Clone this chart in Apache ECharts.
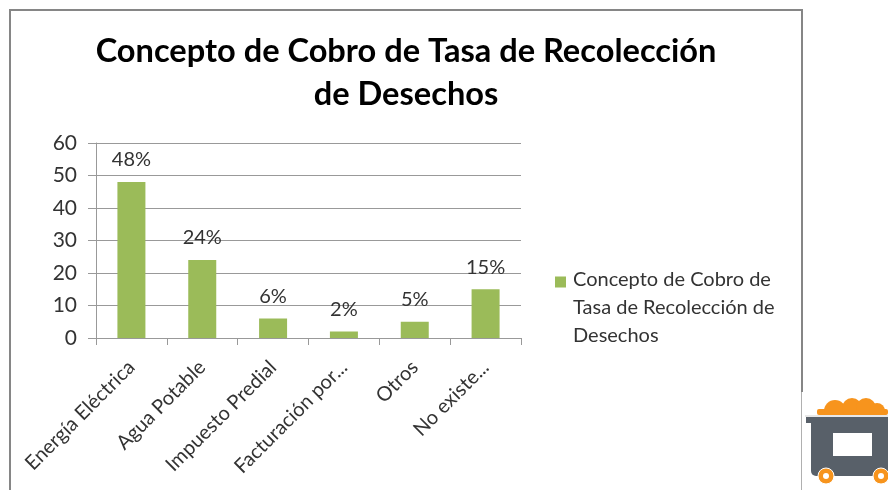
<!DOCTYPE html>
<html>
<head>
<meta charset="utf-8">
<style>html,body{margin:0;padding:0;background:#fff}#c{width:888px;height:490px}</style>
<script src="https://cdn.jsdelivr.net/npm/echarts@6/dist/echarts.min.js"></script>
</head>
<body>
<div id="c"></div>
<script>
const titleText = 'Concepto de Cobro de Tasa de Recolección\nde Desechos';
const seriesName = 'Concepto de Cobro de Tasa de Recolección de Desechos';
const legendLines = 'Concepto de Cobro de\nTasa de Recolección de\nDesechos';
const categories = ['Energía Eléctrica', 'Agua Potable', 'Impuesto Predial', 'Facturación por...', 'Otros', 'No existe...'];
const values = [48, 24, 6, 2, 5, 15];
const yTicks = {min: 0, max: 60, interval: 10};
const font = 'Lato, "Open Sans", sans-serif';
const chart = echarts.init(document.getElementById('c'), null, {renderer: 'canvas'});
chart.setOption({
  backgroundColor: '#fff',
  animation: false,
  title: {
    text: titleText, left: 401, top: 25, textAlign: 'center',
    textStyle: {fontFamily: font, fontSize: 32.6, fontWeight: 700, color: '#000', lineHeight: 43}
  },
  grid: {left: 96, top: 143, width: 425, height: 195, containLabel: false},
  legend: {
    left: 555, top: 266, orient: 'vertical', padding: 0,
    itemWidth: 11, itemHeight: 70, itemGap: 0,
    icon: 'path://M0 7H11V18H0Z M0 70H0.01V70.01H0Z',
    formatter: () => legendLines,
    textStyle: {fontFamily: font, fontSize: 20, color: '#333', lineHeight: 28, padding: [0, 0, 0, 2]},
    data: [seriesName]
  },
  xAxis: {
    type: 'category', data: categories,
    axisLine: {lineStyle: {color: '#999', width: 1}},
    axisTick: {show: true, alignWithLabel: false, length: 7, lineStyle: {color: '#999'}},
    axisLabel: {rotate: 45, interval: 0, margin: 26, fontFamily: font, fontSize: 20, color: '#333'}
  },
  yAxis: {
    type: 'value', min: yTicks.min, max: yTicks.max, interval: yTicks.interval,
    axisLine: {show: true, lineStyle: {color: '#999', width: 1}},
    axisTick: {show: true, length: 8, lineStyle: {color: '#999'}},
    splitLine: {show: true, lineStyle: {color: '#999', width: 1}},
    axisLabel: {margin: 19, fontFamily: font, fontSize: 21, color: '#333'}
  },
  series: [{
    name: seriesName, type: 'bar', data: values, barWidth: 28,
    itemStyle: {color: '#9BBB59'},
    label: {show: true, position: 'top', distance: 12, formatter: p => p.value + '%', fontFamily: font, fontSize: 20, color: '#333'}
  }],
  graphic: [
    {type: 'polyline', silent: true, shape: {points: [[10, 490], [10, 10], [802, 10], [802, 392]]}, style: {stroke: '#868686', lineWidth: 2, fill: null}},
    {type: 'line', silent: true, shape: {x1: 801.5, y1: 392, x2: 801.5, y2: 490}, style: {stroke: '#b0b0b0', lineWidth: 1}},
    {type: 'rect', silent: true, shape: {x: 817, y: 409, width: 71, height: 6, r: 2}, style: {fill: '#F7941D'}},
    {type: 'circle', silent: true, shape: {cx: 835, cy: 411, r: 11}, style: {fill: '#F7941D'}},
    {type: 'circle', silent: true, shape: {cx: 852, cy: 408, r: 10}, style: {fill: '#F7941D'}},
    {type: 'circle', silent: true, shape: {cx: 866, cy: 408, r: 10}, style: {fill: '#F7941D'}},
    {type: 'circle', silent: true, shape: {cx: 877, cy: 411, r: 8}, style: {fill: '#F7941D'}},
    {type: 'rect', silent: true, shape: {x: 805, y: 415, width: 83, height: 2}, style: {fill: '#e8e8e8'}},
    {type: 'rect', silent: true, shape: {x: 806, y: 417, width: 82, height: 6}, style: {fill: '#586069'}},
    {type: 'rect', silent: true, shape: {x: 811, y: 417, width: 77, height: 59, r: [0, 0, 0, 5]}, style: {fill: '#586069'}},
    {type: 'rect', silent: true, shape: {x: 833, y: 433, width: 39, height: 23}, style: {fill: '#fff'}},
    {type: 'circle', silent: true, shape: {cx: 826, cy: 476, r: 8}, style: {fill: '#F7941D', stroke: '#fff', lineWidth: 1}},
    {type: 'circle', silent: true, shape: {cx: 826, cy: 476, r: 3}, style: {fill: '#fff'}},
    {type: 'circle', silent: true, shape: {cx: 881, cy: 476, r: 8}, style: {fill: '#F7941D', stroke: '#fff', lineWidth: 1}},
    {type: 'circle', silent: true, shape: {cx: 881, cy: 476, r: 3}, style: {fill: '#fff'}}
  ]
});
</script>
</body>
</html>
